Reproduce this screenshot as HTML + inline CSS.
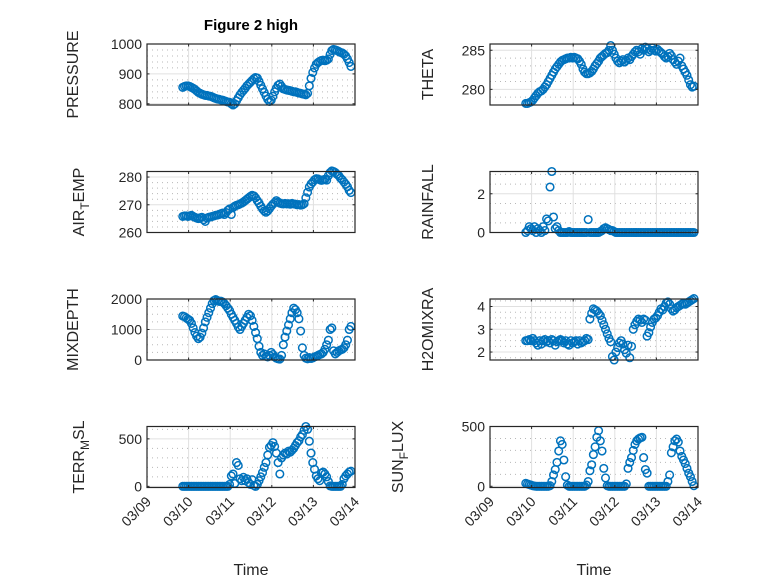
<!DOCTYPE html>
<html><head><meta charset="utf-8">
<style>
html,body{margin:0;padding:0;background:#fff;}
svg{display:block;font-family:"Liberation Sans","DejaVu Sans",sans-serif;}
</style></head>
<body>
<svg id="fig" width="778" height="583" viewBox="0 0 778 583" xmlns="http://www.w3.org/2000/svg">
<rect width="778" height="583" fill="#fff"/>
<text x="251" y="30" text-anchor="middle" font-size="15" font-weight="bold" fill="#000">Figure 2 high</text>
</svg>
<script>
const xTickLabels = ["03/09","03/10","03/11","03/12","03/13","03/14"];
const tStart = 0.86;
const pressure = [855,858,860,860,
858,855,852,848,843,838,835,832,830,828,828,826,825,823,820,818,816,815,813,812,810,808,806,805,
800,796,800,
810,820,830,838,845,852,860,866,872,878,884,888,886,
875,862,850,838,826,815,808,812,
825,840,852,862,866,858,
850,848,846,845,844,842,840,840,838,836,835,833,832,830,835,
860,885,905,920,932,938,942,
945,946,944,946,950,965,978,
982,980,978,975,972,970,966,960,950,938,925];
const theta = [278.2,278.2,278.3,278.4,
278.6,278.9,279.2,279.5,279.7,279.8,280.0,280.3,
280.6,281.0,281.4,281.8,282.2,282.6,282.9,283.2,
283.5,283.7,283.8,283.9,284.0,284.0,284.1,284.0,
284.1,284.0,283.9,283.6,283.2,282.6,282.2,282.0,
282.0,282.1,282.3,282.6,283.0,283.3,283.6,284.0,
284.2,284.4,284.6,284.7,285.0,285.6,285.0,284.5,
284.0,283.6,283.4,283.6,283.8,283.5,283.7,284.0,
283.8,284.2,284.5,284.8,285.0,284.8,284.5,285.2,
285.0,285.4,285.2,284.8,285.0,285.3,285.0,284.9,
285.1,284.9,284.7,284.5,284.2,284.0,284.2,284.6,
284.3,283.8,283.5,283.2,283.6,284.0,283.0,282.6,
282.2,281.8,281.2,280.6,280.3,280.4];
const airTemp = [265.8,266.0,266.0,265.8,
266.0,266.2,265.8,265.5,265.2,265.0,265.3,265.5,
264.6,264.0,265.2,265.5,265.6,265.8,266.0,266.2,
266.3,266.5,266.8,267.0,266.5,267.2,268.0,268.5,
266.5,269.0,269.5,269.8,270.0,270.3,270.6,271.0,
271.5,272.0,272.5,273.0,273.4,273.2,272.5,271.5,
270.6,269.5,268.5,267.8,267.3,267.8,268.6,269.5,
270.2,270.8,271.5,271.0,270.6,270.4,270.3,270.5,
270.3,270.4,270.2,270.5,270.3,270.2,270.0,270.1,
269.9,270.0,270.4,272.5,274.5,276.4,277.5,278.2,
279.0,279.4,279.3,279.0,278.8,279.0,279.2,278.9,
280.5,281.6,282.2,282.0,281.6,281.0,280.5,279.6,
279.0,278.2,277.4,276.5,275.2,274.4];
const rainfall = [0,0.1,0.3,0.2,
0.1,0.3,0,0.2,0.1,0,0.3,0.1,
0.7,0.6,2.35,3.15,0.8,0.2,0.3,0.1,
0,0,0,0,0,0.05,0,0,
0,0,0,0,0,0,0,0,
0.67,0,0,0,0,0,0,0.05,
0.1,0.2,0.25,0.2,0.15,0.1,0.1,0.05,
0,0,0,0,0,0,0,0,0,0,0,0,0,0,0,0,0,0,0,0,0,0,0,0,
0,0,0,0,0,0,0,0,0,0,0,0,0,0,0,0,0,0,0,0,0,0];
const mixDepth = [1440,1420,1380,1340,
1300,1200,1050,900,780,700,750,880,
1050,1250,1400,1550,1700,1850,1950,1980,
1950,1920,1930,1900,1850,1780,1700,1620,
1500,1400,1300,1200,1080,1000,1100,1200,
1300,1400,1500,1450,1300,1100,900,700,
450,250,150,200,120,100,150,250,
180,100,60,40,30,150,500,750,
950,1150,1350,1550,1700,1650,1550,1350,
950,400,150,60,40,80,50,70,
100,120,150,180,200,250,350,500,
650,1000,1050,300,200,250,300,330,
350,400,500,650,1000,1100];
const h2oMix = [2.5,2.5,2.55,2.5,
2.6,2.5,2.4,2.3,2.5,2.35,2.5,2.55,
2.45,2.5,2.4,2.55,2.5,2.3,2.45,2.5,
2.55,2.5,2.4,2.5,2.35,2.3,2.5,2.4,
2.45,2.5,2.35,2.5,2.4,2.45,2.5,2.6,
2.55,3.45,3.7,3.9,3.85,3.8,3.7,3.6,
3.4,3.2,3.0,2.8,2.6,2.45,1.8,1.65,
2.0,2.2,2.4,2.5,2.35,2.1,1.95,2.3,
1.75,2.25,3.0,3.2,3.35,3.45,3.4,3.3,
3.45,3.4,2.7,2.85,3.1,3.3,3.45,3.5,
3.6,3.75,3.9,3.85,4.0,4.15,4.2,4.1,
3.9,3.8,3.85,3.95,4.0,4.05,4.1,4.15,
4.1,4.15,4.2,4.25,4.3,4.35];
const terrMsl = [0,0,0,0,0,0,0,0,0,0,0,0,0,0,0,0,0,0,0,0,0,0,0,0,0,0,0,
20,
110,130,30,250,220,80,60,95,
60,80,40,20,70,10,0,20,
60,100,145,200,250,330,410,430,
460,420,350,250,130,300,330,350,
340,370,360,380,400,430,460,480,
520,545,590,630,600,475,350,250,
180,110,80,60,140,150,130,100,
50,5,0,0,0,0,0,0,
20,80,110,130,150,160];
const sunFlux = [25,20,15,10,
5,2,0,0,0,0,0,0,
0,0,5,40,95,140,200,295,
380,350,220,80,10,0,0,0,
0,0,0,0,0,0,0,10,
40,130,180,265,330,410,465,380,
295,150,70,5,0,0,0,0,
0,0,0,0,0,0,20,150,
200,240,300,350,380,395,405,410,
240,140,110,0,0,0,0,0,
0,0,0,0,0,0,40,95,
280,330,380,395,370,295,250,220,
190,150,110,80,40,5];

const pressureTicks=[800,900,1000], thetaTicks=[280,285], airTicks=[260,270,280], rainTicks=[0,2],
      mixTicks=[0,1000,2000], h2oTicks=[2,3,4], terrTicks=[0,500], sunTicks=[0,500];

const NS="http://www.w3.org/2000/svg";
const svg=document.getElementById('fig');
function mk(tag,attrs,parent){const e=document.createElementNS(NS,tag);for(const k in attrs)e.setAttribute(k,attrs[k]);(parent||svg).appendChild(e);return e;}

const cols=[147,490], W=208, H=61, tops=[44,171.5,299,426.5];
const panels=[
 {name:'pressure',label:['PRESSURE'],vals:pressure,ticks:pressureTicks,ymin:796,ymax:1000,minor:20,col:0,row:0,lx:78},
 {name:'theta',label:['THETA'],vals:theta,ticks:thetaTicks,ymin:278,ymax:285.8,minor:1,col:1,row:0,lx:433},
 {name:'air-temp',label:['AIR','T','EMP'],vals:airTemp,ticks:airTicks,ymin:260,ymax:282,minor:2,col:0,row:1,lx:84},
 {name:'rainfall',label:['RAINFALL'],vals:rainfall,ticks:rainTicks,ymin:0,ymax:3.15,minor:0.5,col:1,row:1,lx:433},
 {name:'mixdepth',label:['MIXDEPTH'],vals:mixDepth,ticks:mixTicks,ymin:0,ymax:2000,minor:250,col:0,row:2,lx:78},
 {name:'h2omixra',label:['H2OMIXRA'],vals:h2oMix,ticks:h2oTicks,ymin:1.65,ymax:4.33,minor:0.25,col:1,row:2,lx:433},
 {name:'terr-msl',label:['TERR','M','SL'],vals:terrMsl,ticks:terrTicks,ymin:-12,ymax:630,minor:100,col:0,row:3,lx:84},
 {name:'sun-flux',label:['SUN','F','LUX'],vals:sunFlux,ticks:sunTicks,ymin:-10,ymax:500,minor:100,col:1,row:3,lx:403},
];

panels.forEach(p=>{
  const x0=cols[p.col], y0=tops[p.row];
  const xs=t=>x0+t/5*W;
  const ys=v=>y0+H-(v-p.ymin)/(p.ymax-p.ymin)*H;
  const g=mk('g',{});
  
  
  for(let v=Math.ceil(p.ymin/p.minor)*p.minor; v<=p.ymax; v+=p.minor){
    if(p.ticks.some(t=>Math.abs(t-v)<1e-9)) continue;
    const l=mk('line',{x1:x0,x2:x0+W,y1:ys(v),y2:ys(v),stroke:'#b8b8b8','stroke-width':1,'stroke-dasharray':'1 4'},g);
    
    
  }
  for(let d=1; d<5; d++){
    const l=mk('line',{x1:xs(d),x2:xs(d),y1:y0,y2:y0+H,stroke:'#e0e0e0','stroke-width':1},g);
    
    
  }
  p.ticks.forEach(v=>{
    const l=mk('line',{x1:x0,x2:x0+W,y1:ys(v),y2:ys(v),stroke:'#e0e0e0','stroke-width':1},g);
    
    
  });
  p.vals.forEach((v,i)=>{
    const c=mk('circle',{cx:xs(tStart+i/24),cy:ys(v),r:3.8,fill:'none',stroke:'#0072BD','stroke-width':1.5},g);
    
    
  });
  const b=mk('rect',{x:x0,y:y0,width:W,height:H,fill:'none',stroke:'#262626','stroke-width':1.2},g);
  
  
  for(let d=0; d<=5; d++){
    mk('line',{x1:xs(d),x2:xs(d),y1:y0+H,y2:y0+H-2.5,stroke:'#262626','stroke-width':1},g);
    mk('line',{x1:xs(d),x2:xs(d),y1:y0,y2:y0+2.5,stroke:'#262626','stroke-width':1},g);
    if(p.row===3){
      const t=mk('text',{x:xs(d)+5,y:y0+H+15,'text-anchor':'end','font-size':14,fill:'#262626',transform:`rotate(-45 ${xs(d)+5} ${y0+H+15})`},g);
      t.textContent=xTickLabels[d];
      
      
    }
  }
  p.ticks.forEach(v=>{
    mk('line',{x1:x0,x2:x0+2.5,y1:ys(v),y2:ys(v),stroke:'#262626','stroke-width':1},g);
    mk('line',{x1:x0+W,x2:x0+W-2.5,y1:ys(v),y2:ys(v),stroke:'#262626','stroke-width':1},g);
    const t=mk('text',{x:x0-5,y:ys(v)+5,'text-anchor':'end','font-size':14,fill:'#262626'},g);
    t.textContent=String(v);
    
    
  });
  const cy=y0+H/2;
  const yl=mk('text',{x:p.lx,y:cy,'text-anchor':'middle','font-size':16,fill:'#262626',transform:`rotate(-90 ${p.lx} ${cy})`},g);
  
  
  if(p.label.length===1){ yl.textContent=p.label[0]; }
  else{
    const s1=mk('tspan',{},yl); s1.textContent=p.label[0];
    const s2=mk('tspan',{dy:5,'font-size':12},yl); s2.textContent=p.label[1];
    const s3=mk('tspan',{dy:-5},yl); s3.textContent=p.label[2];
  }
  if(p.row===3){
    const xl=mk('text',{x:x0+W/2,y:575,'text-anchor':'middle','font-size':16,fill:'#262626'},g);
    xl.textContent='Time';
    
    
  }
});
</script>
</body></html>
